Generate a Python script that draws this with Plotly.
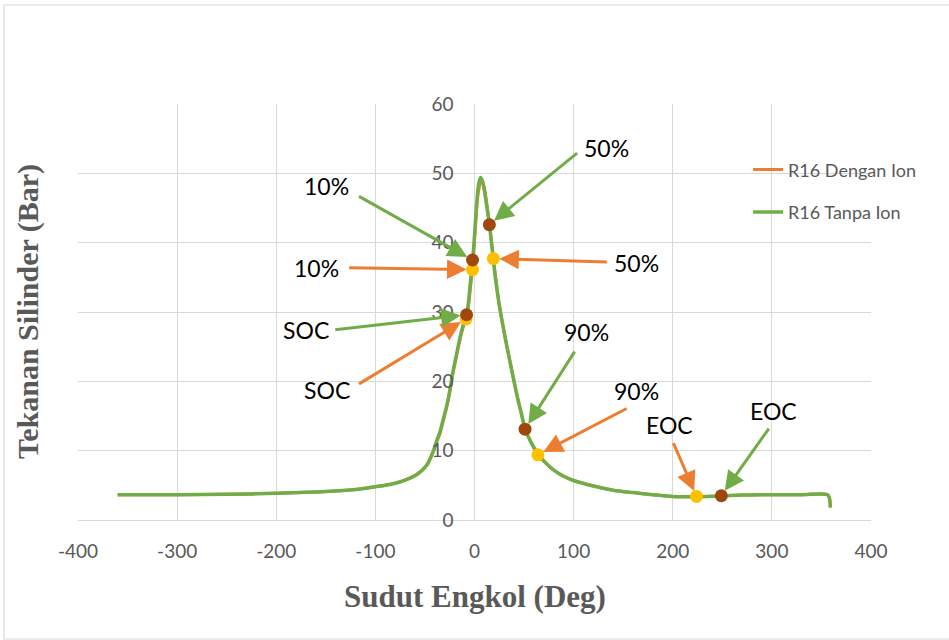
import plotly.graph_objects as go

# Crank angle (deg) and cylinder pressure (bar)
angle_tanpa = [-360, -330, -300, -250, -200, -150, -120, -100, -90, -80, -70, -60, -55, -50, -47,
               -44, -42, -40, -38, -35, -33, -31, -28, -25, -22, -20, -18, -16, -14, -12, -10, -8,
               -6, -4, -2, 0, 2, 4, 6, 8, 10, 12, 15, 18, 21, 25, 30, 33, 38, 43, 47, 51, 57, 64,
               72, 80, 90, 100, 120, 140, 160, 180, 200, 225, 249, 270, 300, 330, 356, 358, 359]
press_tanpa = [3.65, 3.65, 3.65, 3.7, 3.85, 4.1, 4.4, 4.8, 5.0, 5.3, 5.75, 6.4, 6.9, 7.6, 8.2,
               9.1, 9.8, 10.6, 11.5, 12.6, 13.7, 14.8, 16.5, 18.6, 21.2, 22.6, 24.0, 25.4, 26.7,
               27.8, 28.8, 29.6, 31.5, 34.5, 37.2, 41.0, 45.2, 48.3, 49.4, 48.9, 47.5, 45.6,
               42.6, 38.9, 35.0, 31.0, 27.0, 24.8, 21.3, 17.9, 15.5, 13.2, 11.2, 9.6, 8.2, 7.2,
               6.3, 5.7, 4.9, 4.3, 3.95, 3.65, 3.4, 3.35, 3.45, 3.6, 3.65, 3.65, 3.65, 3.2, 1.8]

angle_dengan = [-360, -330, -300, -250, -200, -150, -120, -100, -90, -80, -70, -60, -55, -50, -47,
                -44, -42, -40, -38, -35, -33, -31, -28, -25, -22, -20, -18, -16, -14, -12, -10, -8,
                -6, -4, -2, 0, 2, 4, 7, 9, 11, 13, 16, 19, 22, 25, 30, 33, 38, 43, 47, 51, 57, 64,
                72, 80, 90, 100, 120, 140, 160, 180, 200, 225, 249, 270, 300, 330, 356, 358, 359]
press_dengan = [3.65, 3.65, 3.65, 3.7, 3.85, 4.1, 4.4, 4.8, 5.0, 5.3, 5.75, 6.4, 6.9, 7.6, 8.1,
                9.0, 9.7, 10.4, 11.3, 12.4, 13.5, 14.6, 16.3, 18.4, 21.0, 22.4, 23.8, 25.1, 26.4,
                27.5, 28.4, 29.1, 31.0, 33.6, 36.1, 40.2, 44.5, 47.4, 48.8, 48.4, 47.0, 45.0,
                41.6, 37.7, 34.2, 31.0, 27.0, 24.8, 21.3, 17.9, 15.5, 13.2, 11.2, 9.4, 8.2, 7.2,
                6.3, 5.7, 4.9, 4.3, 3.95, 3.65, 3.4, 3.35, 3.45, 3.6, 3.65, 3.65, 3.65, 3.2, 1.8]

# Combustion points: SOC, 10%, 50%, 90%, EOC
point_labels = ["SOC", "10%", "50%", "90%", "EOC"]
pt_angle_dengan = [-8.5, -2, 19, 64, 224]
pt_press_dengan = [29.0, 36.1, 37.7, 9.4, 3.4]
pt_angle_tanpa = [-8, -2, 15, 51, 249]
pt_press_tanpa = [29.6, 37.5, 42.6, 13.1, 3.5]

# Label text centre and arrow tail (data coords) for each point
label_pos_dengan = [(-149, 18.8), (-159, 36.4), (163, 37.1), (163, 18.6), (197, 13.7)]
tail_pos_dengan = [(-118, 19.5), (-128, 36.4), (135, 37.2), (155, 16.2), (200, 11.3)]
label_pos_tanpa = [(-170, 27.4), (-149, 48.2), (133, 53.7), (113, 27.1), (302, 15.7)]
tail_pos_tanpa = [(-142, 27.4), (-118, 46.8), (105, 53.1), (102, 24.5), (298, 13.4)]

x_ticks = [-400, -300, -200, -100, 0, 100, 200, 300, 400]
x_tick_text = ["-400", "-300", "-200", "-100", "0", "100", "200", "300", "400"]
y_ticks = [0, 10, 20, 30, 40, 50, 60]

ORANGE = "#ED7D31"
GREEN = "#70AD47"
YELLOW = "#FFC000"
BROWN = "#9E480E"
GRID = "#D9D9D9"
TXT = "#595959"
FONT = "Lato"

fig = go.Figure()
fig.add_trace(go.Scatter(x=angle_dengan, y=press_dengan, mode="lines", name="R16 Dengan Ion",
                         line=dict(color=ORANGE, width=3, shape="spline", smoothing=0.8),
                         legendgroup="a"))
fig.add_trace(go.Scatter(x=angle_tanpa, y=press_tanpa, mode="lines", name="R16 Tanpa Ion",
                         line=dict(color=GREEN, width=3.5, shape="spline", smoothing=0.8),
                         legendgroup="b"))
fig.add_trace(go.Scatter(x=pt_angle_dengan, y=pt_press_dengan, mode="markers", showlegend=False,
                         marker=dict(color=YELLOW, size=13), hovertext=point_labels))
fig.add_trace(go.Scatter(x=pt_angle_tanpa, y=pt_press_tanpa, mode="markers", showlegend=False,
                         marker=dict(color=BROWN, size=13), hovertext=point_labels))

annotations = []
for pts, labs, tails, col in [
    ((pt_angle_dengan, pt_press_dengan), label_pos_dengan, tail_pos_dengan, ORANGE),
    ((pt_angle_tanpa, pt_press_tanpa), label_pos_tanpa, tail_pos_tanpa, GREEN),
]:
    for i, name in enumerate(point_labels):
        px, py = pts[0][i], pts[1][i]
        annotations.append(dict(
            x=px, y=py, xref="x", yref="y", ax=tails[i][0], ay=tails[i][1], axref="x", ayref="y",
            text="", showarrow=True, arrowhead=2, arrowsize=1.3, arrowwidth=3,
            arrowcolor=col, standoff=6))
        annotations.append(dict(
            x=labs[i][0], y=labs[i][1], xref="x", yref="y", text=name, showarrow=False,
            font=dict(family=FONT, size=23, color="#000000")))

annotations.append(dict(x=0.5, y=-0.183, xref="paper", yref="paper", xanchor="center",
                        yanchor="middle", text="<b>Sudut Engkol (Deg)</b>", showarrow=False,
                        font=dict(family="Liberation Serif", size=31, color=TXT)))
annotations.append(dict(x=-0.063, y=0.5, xref="paper", yref="paper", xanchor="center",
                        yanchor="middle", text="<b>Tekanan Silinder (Bar)</b>",
                        showarrow=False, textangle=-90,
                        font=dict(family="Liberation Serif", size=30, color=TXT)))

fig.update_layout(
    width=949, height=640,
    margin=dict(l=78, r=78, t=104, b=120),
    paper_bgcolor="white", plot_bgcolor="white",
    font=dict(family=FONT, color=TXT),
    showlegend=True,
    legend=dict(x=0.845, y=0.886, xanchor="left", yanchor="top", font=dict(size=18, color=TXT),
                tracegroupgap=16, bgcolor="rgba(0,0,0,0)"),
    annotations=annotations,
    shapes=[dict(type="rect", xref="paper", yref="paper", x0=-0.0933, x1=1.11, y0=-0.286, y1=1.238,
                 line=dict(color=GRID, width=1.2), fillcolor="rgba(0,0,0,0)", layer="below")],
    xaxis=dict(range=[-400, 400], tickvals=x_ticks, ticktext=x_tick_text, showgrid=True,
               gridcolor=GRID, gridwidth=1, zeroline=False, showline=True, linecolor=GRID, ticks="",
               tickfont=dict(family=FONT, size=19, color=TXT), ticklabelstandoff=14,
               mirror=False),
    yaxis=dict(range=[0, 60], tickvals=y_ticks, showgrid=True, gridcolor=GRID, gridwidth=1,
               zeroline=False, showline=False, ticks="", anchor="free", position=0.5,
               tickfont=dict(family=FONT, size=19, color=TXT), ticklabelstandoff=21),
)

fig.write_html("out.html")
